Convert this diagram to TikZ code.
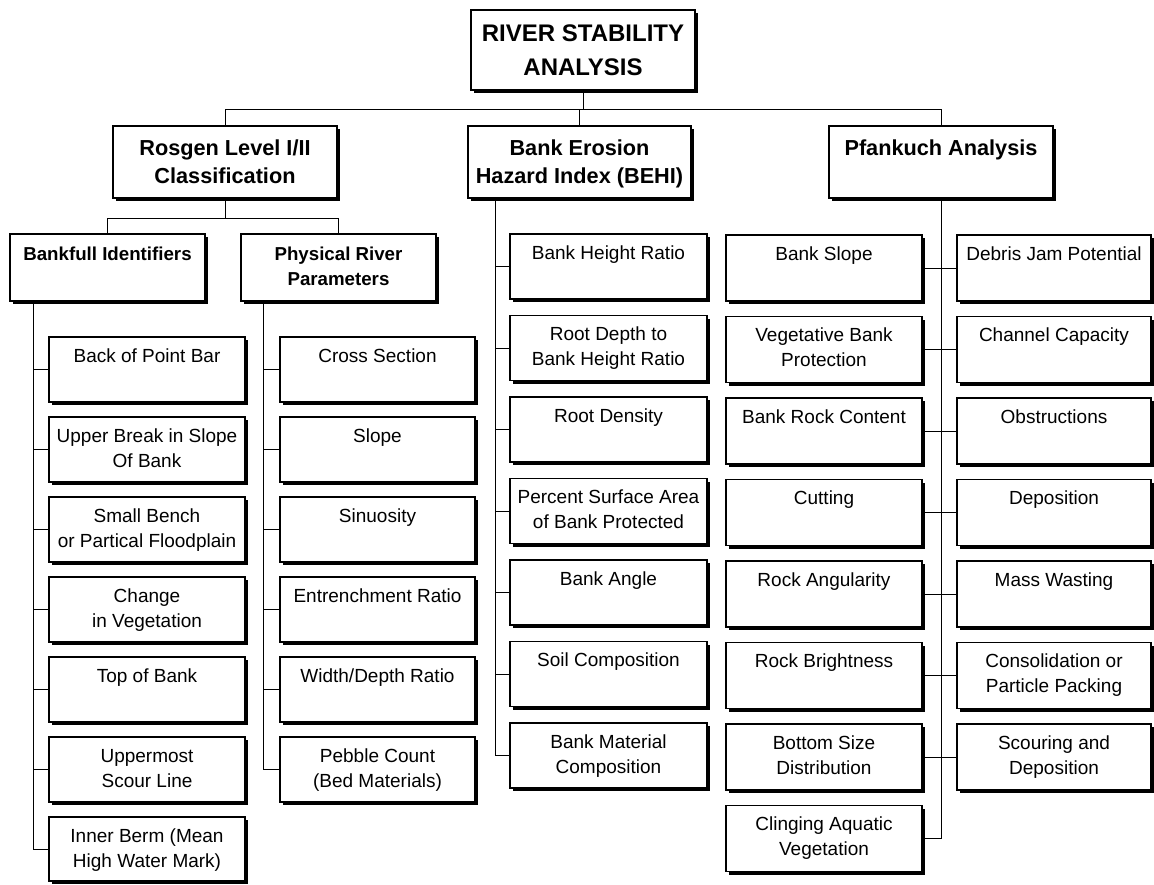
\documentclass[tikz,border=0pt]{standalone}
\usepackage{fontspec}
\setmainfont{Liberation Sans}
\usetikzlibrary{shadows}
\newcommand\fTitle{\fontsize{24}{34}\selectfont\bfseries\rule{0pt}{31pt}}
\newcommand\fOne{\fontsize{21.7}{28}\selectfont\bfseries\rule{0pt}{29pt}}
\newcommand\fTwo{\fontsize{18.7}{25}\selectfont\bfseries\rule{0pt}{26pt}}
\newcommand\fLeaf{\fontsize{19}{25}\selectfont\rule{0pt}{25pt}}
% name, x1, y1, x2, y2, font, text
\newcommand\bx[7]{\node[box] (#1) at (#2,#3) {\parbox[c][\dimexpr#5pt-#3pt\relax][t]{\dimexpr#4pt-#2pt\relax}{\centering#6#7\par}};}
\begin{document}
\begin{tikzpicture}[x=1pt,y=-1pt,
  box/.style={draw, line width=1.5pt, fill=white, inner sep=0pt, outer sep=0pt, anchor=north west,
    drop shadow={fill=black, opacity=1, shadow xshift=3pt, shadow yshift=-3pt}},
  conn/.style={line width=1pt}]
\useasboundingbox (0,0) rectangle (1154,884);
% ---- boxes ----
\bx{root}{471}{10}{695}{90}{\fTitle}{RIVER STABILITY\\ANALYSIS}
\bx{ros}{113}{126}{337}{198}{\fOne}{Rosgen Level I/II\\Classification}
\bx{behi}{468}{126}{691}{198}{\fOne}{Bank Erosion\\Hazard Index (BEHI)}
\bx{pf}{829}{126}{1053}{198}{\fOne}{Pfankuch Analysis}
\bx{bf}{10}{234}{205}{301}{\fTwo}{Bankfull Identifiers}
\bx{pr}{241}{234}{436}{301}{\fTwo}{Physical River\\Parameters}
% Bankfull children
\bx{b1}{49}{337}{245}{402}{\fLeaf}{Back of Point Bar}
\bx{b2}{49}{417}{245}{482}{\fLeaf}{Upper Break in Slope\\Of Bank}
\bx{b3}{49}{497}{245}{562}{\fLeaf}{Small Bench\\or Partical Floodplain}
\bx{b4}{49}{577}{245}{642}{\fLeaf}{Change\\in Vegetation}
\bx{b5}{49}{657}{245}{722}{\fLeaf}{Top of Bank}
\bx{b6}{49}{737}{245}{802}{\fLeaf}{Uppermost\\Scour Line}
\bx{b7}{49}{817}{245}{881}{\fLeaf}{Inner Berm (Mean\\High Water Mark)}
% Physical children
\bx{r1}{280}{337}{475}{402}{\fLeaf}{Cross Section}
\bx{r2}{280}{417}{475}{482}{\fLeaf}{Slope}
\bx{r3}{280}{497}{475}{562}{\fLeaf}{Sinuosity}
\bx{r4}{280}{577}{475}{642}{\fLeaf}{Entrenchment Ratio}
\bx{r5}{280}{657}{475}{722}{\fLeaf}{Width/Depth Ratio}
\bx{r6}{280}{737}{475}{802}{\fLeaf}{Pebble Count\\(Bed Materials)}
% BEHI children
\bx{e1}{510}{234}{707}{299}{\fLeaf}{Bank Height Ratio}
\bx{e2}{510}{315.5}{707}{380.5}{\fLeaf}{Root Depth to\\Bank Height Ratio}
\bx{e3}{510}{397}{707}{462}{\fLeaf}{Root Density}
\bx{e4}{510}{478.5}{707}{543.5}{\fLeaf}{Percent Surface Area\\of Bank Protected}
\bx{e5}{510}{560}{707}{625}{\fLeaf}{Bank Angle}
\bx{e6}{510}{641.5}{707}{706.5}{\fLeaf}{Soil Composition}
\bx{e7}{510}{723}{707}{788}{\fLeaf}{Bank Material\\Composition}
% Pfankuch left
\bx{p1}{726}{235}{922}{301}{\fLeaf}{Bank Slope}
\bx{p2}{726}{316.5}{922}{382.5}{\fLeaf}{Vegetative Bank\\Protection}
\bx{p3}{726}{398}{922}{464}{\fLeaf}{Bank Rock Content}
\bx{p4}{726}{479.5}{922}{545.5}{\fLeaf}{Cutting}
\bx{p5}{726}{561}{922}{627}{\fLeaf}{Rock Angularity}
\bx{p6}{726}{642.5}{922}{708.5}{\fLeaf}{Rock Brightness}
\bx{p7}{726}{724}{922}{790}{\fLeaf}{Bottom Size\\Distribution}
\bx{p8}{726}{805.5}{922}{871.5}{\fLeaf}{Clinging Aquatic\\Vegetation}
% Pfankuch right
\bx{q1}{957}{235}{1151}{301}{\fLeaf}{Debris Jam Potential}
\bx{q2}{957}{316.5}{1151}{382.5}{\fLeaf}{Channel Capacity}
\bx{q3}{957}{398}{1151}{464}{\fLeaf}{Obstructions}
\bx{q4}{957}{479.5}{1151}{545.5}{\fLeaf}{Deposition}
\bx{q5}{957}{561}{1151}{627}{\fLeaf}{Mass Wasting}
\bx{q6}{957}{642.5}{1151}{708.5}{\fLeaf}{Consolidation or\\Particle Packing}
\bx{q7}{957}{724}{1151}{790}{\fLeaf}{Scouring and\\Deposition}
% ---- connectors (drawn behind) ----
\begin{scope}[on background layer/.style={}]
\end{scope}
\coordinate (busA) at (0,109);
\coordinate (busB) at (0,218);
\coordinate (bfx) at (33,0);
\coordinate (prx) at (263,0);
\coordinate (bex) at (495,0);
\draw[conn] (root.south) -- (root.south |- busA);
\draw[conn] (ros.north) -- (ros.north |- busA) -- (pf.north |- busA) -- (pf.north);
\draw[conn] (behi.north) -- (behi.north |- busA);
\draw[conn] (ros.south) -- (ros.south |- busB);
\draw[conn] (bf.north) -- (bf.north |- busB) -- (pr.north |- busB) -- (pr.north);
\draw[conn] (bf.south -| bfx) -- (b7.west -| bfx);
\foreach \i in {1,...,7} \draw[conn] (b\i.west) -- (b\i.west -| bfx);
\draw[conn] (pr.south -| prx) -- (r6.west -| prx);
\foreach \i in {1,...,6} \draw[conn] (r\i.west) -- (r\i.west -| prx);
\draw[conn] (behi.south -| bex) -- (e7.west -| bex);
\foreach \i in {1,...,7} \draw[conn] (e\i.west) -- (e\i.west -| bex);
\draw[conn] (pf.south) -- (p8.east -| pf.south);
\foreach \i in {1,...,7} \draw[conn] (p\i.east) -- (q\i.west);
\draw[conn] (p8.east) -- (p8.east -| pf.south);
\end{tikzpicture}
\end{document}
